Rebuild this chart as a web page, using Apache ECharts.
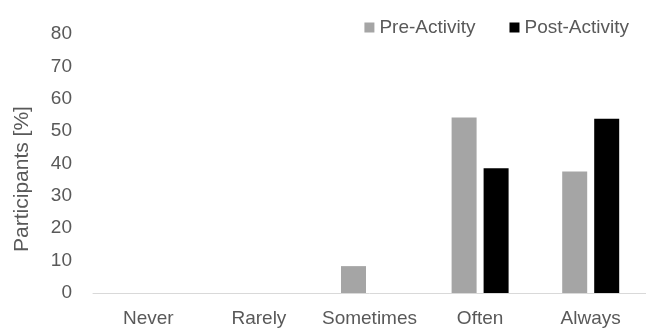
<!DOCTYPE html>
<html>
<head>
<meta charset="utf-8">
<script src="https://cdn.jsdelivr.net/npm/echarts@6/dist/echarts.min.js"></script>
<style>
  html, body { margin: 0; padding: 0; background: #fff; }
  #chart { width: 646px; height: 328px; }
</style>
</head>
<body>
<div id="chart"></div>
<script>
// Frequency categories on the x axis
const categories = ['Never', 'Rarely', 'Sometimes', 'Often', 'Always'];
// Share of participants per answer, in percent
const preActivity = [0, 0, 8.3, 54.2, 37.5];
const postActivity = [0, 0, 0, 38.5, 53.8];
// Y axis range and step
const yMin = 0;
const yMax = 80;
const yStep = 10;

const textColor = '#595959';
const fontFamily = '"Liberation Sans", Arial, sans-serif';
const fontSize = 19;

const chart = echarts.init(document.getElementById('chart'), null, { renderer: 'canvas' });
chart.setOption({
  animation: false,
  textStyle: { fontFamily: fontFamily, color: textColor },
  legend: {
    top: 13,
    right: 12,
    itemWidth: 10,
    itemHeight: 10,
    itemGap: 34,
    icon: 'rect',
    textStyle: { fontSize: fontSize, color: textColor, fontFamily: fontFamily },
    data: ['Pre-Activity', 'Post-Activity']
  },
  grid: { left: 93, right: -3, top: 34, bottom: 33, containLabel: false },
  xAxis: {
    type: 'category',
    data: categories,
    axisLine: { lineStyle: { color: '#d9d9d9', width: 1 } },
    axisTick: { show: false },
    axisLabel: { color: textColor, fontSize: fontSize, fontFamily: fontFamily, margin: 16, interval: 0 }
  },
  yAxis: {
    type: 'value',
    min: yMin,
    max: yMax,
    interval: yStep,
    name: 'Participants [%]',
    nameLocation: 'middle',
    nameGap: 60,
    nameTextStyle: { color: textColor, fontSize: 21, fontFamily: fontFamily, padding: [0, 31, 0, 0] },
    axisLine: { show: false },
    axisTick: { show: false },
    splitLine: { show: false },
    axisLabel: { color: textColor, fontSize: fontSize, fontFamily: fontFamily, margin: 21 }
  },
  series: [
    {
      name: 'Pre-Activity',
      type: 'bar',
      data: preActivity,
      barWidth: 25,
      barGap: '28%',
      itemStyle: { color: '#a5a5a5' }
    },
    {
      name: 'Post-Activity',
      type: 'bar',
      data: postActivity,
      barWidth: 25,
      itemStyle: { color: '#000000' }
    }
  ]
});
</script>
</body>
</html>
